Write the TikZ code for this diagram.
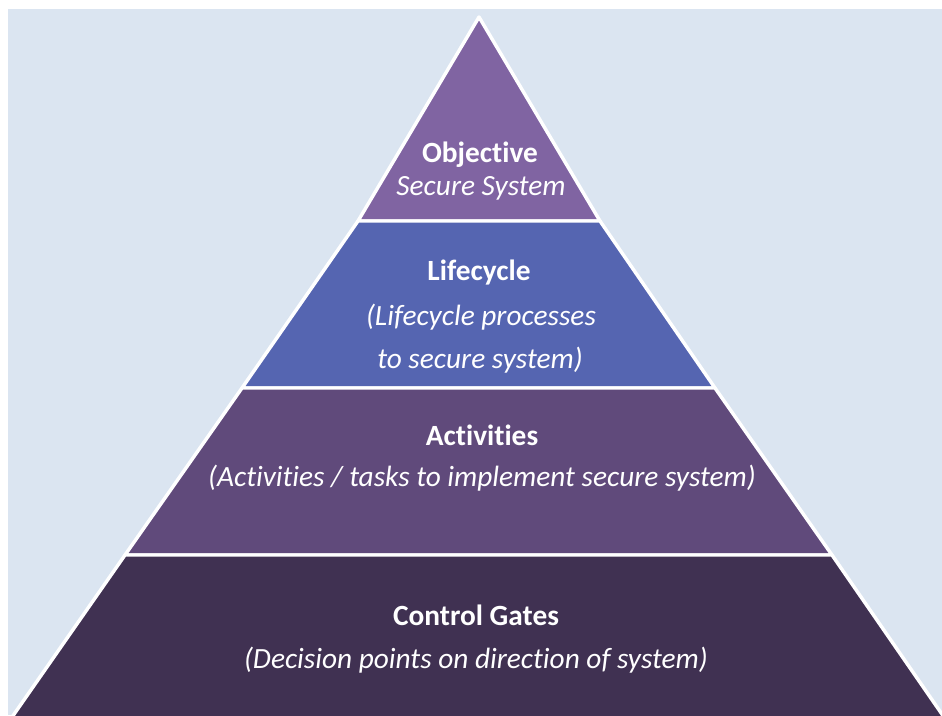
\documentclass[tikz,border=0pt]{standalone}
\usepackage{fontspec}
\setmainfont[Ligatures=CommonOff]{Carlito}
\definecolor{bgblue}{HTML}{DBE5F1}
\definecolor{objfill}{HTML}{8064A2}
\definecolor{lifefill}{HTML}{5565B1}
\definecolor{actfill}{HTML}{604A7B}
\definecolor{gatefill}{HTML}{403152}

\begin{document}
\begin{tikzpicture}[x=0.75pt,y=0.75pt,yscale=-1,xscale=1]
\tikzset{
  tier/.style={draw=white, line width=2.6pt, line join=round},
  title/.style={text=white, font=\fontsize{22}{26}\selectfont\bfseries, inner sep=0.75pt},
  sub/.style={text=white, font=\fontsize{22}{26}\selectfont\itshape, inner sep=0.75pt}
}
\useasboundingbox (0,0) rectangle (942,715);
\fill [bgblue] (8,9) rectangle (942,715);
\begin{scope}
\clip (0,0) rectangle (942,715);
% pyramid tiers, top to bottom
\draw [tier, fill=objfill]  (479,17) -- (600,221) -- (358,221) -- cycle ;
\draw [tier, fill=lifefill] (358,221) -- (600,221) -- (715,388) -- (242,388) -- cycle ;
\draw [tier, fill=actfill]  (242,388) -- (715,388) -- (832,555) -- (125,555) -- cycle ;
\draw [tier, fill=gatefill] (125,555) -- (832,555) -- (946,720) -- (10,720) -- cycle ;
\end{scope}

\node [title] (objtitle) at (480,155) {Objective};
\node [sub] (objsub) at (481,188) {Secure System};
\node [title] (lifetitle) at (479,273) {Lifecycle};
\node [sub] (lifesubA) at (481,317) {(Lifecycle processes};
\node [sub] (lifesubB) at (480,360) {to secure system)};
\node [title] (acttitle) at (482,435) {Activities};
\node [sub] (actsub) at (482,478) {(Activities / tasks to implement secure system)};
\node [title] (gatetitle) at (476,615) {Control Gates};
\node [sub] (gatesub) at (476,660) {(Decision points on direction of system)};
\end{tikzpicture}
\end{document}
